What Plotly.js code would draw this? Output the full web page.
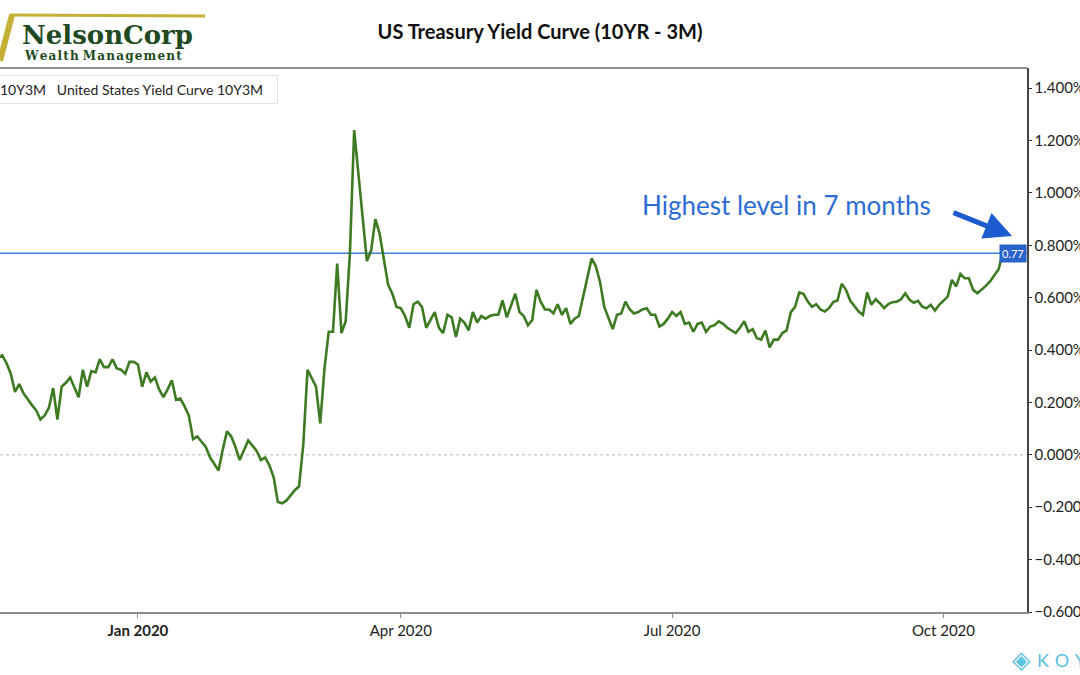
<!DOCTYPE html>
<html>
<head>
<meta charset="utf-8">
<script src="https://cdn.plot.ly/plotly-3.0.1.min.js"></script>
<style>
  html, body { margin: 0; padding: 0; background: #fff; }
  #chart { width: 1080px; height: 675px; }
</style>
</head>
<body>
<div id="chart"></div>
<script>
// US Treasury 10Y-3M spread, one value per trading day starting 2019-11-13
const startDate = '2019-11-13';
const marketHolidays = ['2019-11-28', '2019-12-25', '2020-01-01', '2020-01-20', '2020-02-17',
                        '2020-05-25', '2020-07-03', '2020-09-07', '2020-10-12'];
const spread10y3m = [
  0.37, 0.38, 0.35, 0.31, 0.24, 0.27, 0.235, 0.21, 0.19, 0.17,
  0.135, 0.15, 0.18, 0.255, 0.135, 0.26, 0.275, 0.295, 0.255, 0.22,
  0.325, 0.26, 0.32, 0.315, 0.365, 0.335, 0.335, 0.365, 0.33, 0.325,
  0.31, 0.355, 0.355, 0.345, 0.26, 0.315, 0.28, 0.295, 0.25, 0.22,
  0.25, 0.285, 0.21, 0.215, 0.185, 0.15, 0.06, 0.07, 0.05, 0.03,
  -0.01, -0.035, -0.06, 0.02, 0.09, 0.07, 0.03, -0.02, 0.02, 0.055,
  0.035, 0.015, -0.02, -0.01, -0.04, -0.085, -0.18, -0.185, -0.175, -0.155,
  -0.135, -0.12, 0.04, 0.325, 0.29, 0.26, 0.12, 0.33, 0.47, 0.47,
  0.73, 0.465, 0.51, 0.77, 1.24, 1.075, 0.91, 0.74, 0.78, 0.90,
  0.845, 0.755, 0.65, 0.615, 0.565, 0.56, 0.53, 0.485, 0.575, 0.585,
  0.565, 0.485, 0.515, 0.545, 0.485, 0.465, 0.535, 0.525, 0.45, 0.52,
  0.505, 0.475, 0.545, 0.505, 0.53, 0.52, 0.53, 0.535, 0.535, 0.59,
  0.525, 0.57, 0.615, 0.545, 0.53, 0.495, 0.515, 0.63, 0.585, 0.555,
  0.555, 0.54, 0.575, 0.535, 0.56, 0.50, 0.52, 0.53, 0.605, 0.68,
  0.75, 0.72, 0.66, 0.565, 0.52, 0.48, 0.535, 0.54, 0.585, 0.555,
  0.54, 0.545, 0.555, 0.56, 0.535, 0.535, 0.49, 0.50, 0.52, 0.545,
  0.53, 0.545, 0.50, 0.505, 0.47, 0.50, 0.505, 0.47, 0.49, 0.495,
  0.51, 0.50, 0.485, 0.475, 0.465, 0.485, 0.51, 0.47, 0.48, 0.445,
  0.44, 0.475, 0.41, 0.44, 0.44, 0.465, 0.475, 0.545, 0.565, 0.62,
  0.615, 0.585, 0.565, 0.575, 0.555, 0.547, 0.56, 0.583, 0.589, 0.653,
  0.63, 0.589, 0.566, 0.547, 0.534, 0.62, 0.573, 0.594, 0.579, 0.56,
  0.576, 0.583, 0.585, 0.594, 0.617, 0.592, 0.581, 0.588, 0.566, 0.56,
  0.573, 0.551, 0.573, 0.589, 0.604, 0.668, 0.643, 0.691, 0.674, 0.674,
  0.63, 0.617, 0.63, 0.645, 0.662, 0.687, 0.709, 0.77
];
const xTickVals = ['2020-01-02', '2020-04-01', '2020-07-01', '2020-10-01'];
const xTickText = ['<b>Jan 2020</b>', 'Apr 2020', 'Jul 2020', 'Oct 2020'];

// trading-day calendar for the values above
function tradingDays(start, n) {
  var d = new Date(start + 'T00:00:00Z');
  var out = [];
  while (out.length < n) {
    var s = d.toISOString().slice(0, 10);
    var wd = d.getUTCDay();
    if (wd !== 0 && wd !== 6 && marketHolidays.indexOf(s) < 0) out.push(s);
    d.setUTCDate(d.getUTCDate() + 1);
  }
  return out;
}
var dates = tradingDays(startDate, spread10y3m.length);
var lastValue = spread10y3m[spread10y3m.length - 1];

// plot area is 1027 x 544 px, these turn pixel spots into paper units
function px(x) { return x / 1027; }
function py(y) { return (612 - y) / 544; }

var trace = {
  x: dates,
  y: spread10y3m,
  type: 'scatter',
  mode: 'lines',
  line: { color: '#3d7a22', width: 2.6 },
  hoverinfo: 'x+y'
};

var blue = '#2d6cd6';
var serif = '"DejaVu Serif", "Liberation Serif", serif';
var hair = '\u200a';
var nb = '\u00a0';

var layout = {
  width: 1080,
  height: 675,
  margin: { l: 0, r: 53, t: 68, b: 63 },
  paper_bgcolor: '#ffffff',
  plot_bgcolor: '#ffffff',
  showlegend: false,
  font: { family: 'Lato, "Open Sans", sans-serif', color: '#222' },
  title: {
    text: 'US Treasury Yield Curve (10YR - 3M)',
    font: { family: 'Lato, sans-serif', size: 20, color: '#111', weight: 'bold' },
    xref: 'container', x: 0.5, xanchor: 'center',
    yref: 'container', y: 1 - 32 / 675, yanchor: 'middle'
  },
  xaxis: {
    type: 'date',
    range: ['2019-11-13 11:00', '2020-10-29 17:00'],
    rangebreaks: [{ bounds: ['sat', 'mon'] }, { values: marketHolidays }],
    showgrid: false,
    zeroline: false,
    showline: true,
    linecolor: '#8c8c8c',
    linewidth: 2,
    ticks: 'outside',
    ticklen: 4,
    tickcolor: '#8c8c8c',
    tickvals: xTickVals,
    ticktext: xTickText,
    tickfont: { size: 15, color: '#222' }
  },
  yaxis: {
    side: 'right',
    range: [-0.6, 1.477],
    dtick: 0.2,
    tick0: 0,
    tickformat: '.3f',
    ticksuffix: '%',
    showgrid: false,
    zeroline: false,
    showline: true,
    linecolor: '#444',
    linewidth: 1.5,
    ticks: 'outside',
    ticklen: 3,
    tickcolor: '#333',
    tickfont: { size: 15, color: '#222' }
  },
  shapes: [
    // frame top
    { type: 'line', xref: 'paper', yref: 'paper', x0: 0, x1: 1, y0: 1, y1: 1,
      line: { color: '#6e6e6e', width: 1.5 } },
    // zero line
    { type: 'line', xref: 'paper', yref: 'y', x0: 0, x1: 1, y0: 0, y1: 0, layer: 'below',
      line: { color: '#b8b8b8', width: 1, dash: 'dot' } },
    // latest value line
    { type: 'line', xref: 'paper', yref: 'y', x0: 0, x1: 1, y0: lastValue, y1: lastValue, layer: 'below',
      line: { color: '#3f7fdc', width: 1.5 } },
    // logo frame
    { type: 'line', xref: 'paper', yref: 'paper', x0: px(10), x1: px(205), y0: py(15), y1: py(16),
      line: { color: '#c4b136', width: 3 } },
    { type: 'line', xref: 'paper', yref: 'paper', x0: px(12), x1: px(0), y0: py(15), y1: py(61),
      line: { color: '#c4b136', width: 6 } }
  ],
  annotations: [
    // legend box
    { xref: 'paper', yref: 'paper', x: px(-6), y: py(90), xanchor: 'left', yanchor: 'middle',
      text: '10Y3M' + nb + nb + nb + 'United States Yield Curve 10Y3M', showarrow: false,
      font: { size: 14, color: '#222' }, align: 'left', width: 272,
      bgcolor: '#ffffff', bordercolor: '#e2e2e2', borderwidth: 1, borderpad: 5 },
    // callout text
    { xref: 'paper', yref: 'paper', x: px(786), y: py(205), xanchor: 'center', yanchor: 'middle',
      text: 'Highest level in 7 months', showarrow: false,
      font: { size: 26, color: blue } },
    // callout arrow
    { xref: 'paper', yref: 'paper', x: px(1012), y: py(236), text: '', showarrow: true,
      ax: -60, ay: -24, arrowhead: 2, arrowsize: 1.1, arrowwidth: 5, arrowcolor: '#1d5bd0' },
    // last value tag
    { xref: 'paper', yref: 'y', x: 1, y: lastValue, xanchor: 'right', yanchor: 'middle',
      text: lastValue.toFixed(2), showarrow: false,
      font: { size: 11, color: '#ffffff' }, bgcolor: '#2962c9', borderpad: 2 },
    // NelsonCorp logo
    { xref: 'paper', yref: 'paper', x: px(20), y: py(35), xanchor: 'left', yanchor: 'middle',
      text: '<b>NelsonCorp</b>', showarrow: false,
      font: { family: serif, size: 26, color: '#1f4a1f' } },
    { xref: 'paper', yref: 'paper', x: px(22), y: py(56.5), xanchor: 'left', yanchor: 'middle',
      text: '<b>' + 'Wealth'.split('').join(hair) + nb + 'Management'.split('').join(hair) + '</b>',
      showarrow: false,
      font: { family: serif, size: 12, color: '#1f4a1f' } },
    // Koyfin mark
    { xref: 'paper', yref: 'paper', x: px(1021), y: py(660), xanchor: 'center', yanchor: 'middle',
      text: '\u25c8', showarrow: false, font: { family: 'DejaVu Sans', size: 24, color: '#5bbfe0' } },
    { xref: 'paper', yref: 'paper', x: px(1035), y: py(660), xanchor: 'left', yanchor: 'middle',
      text: ['K', 'O', 'Y', 'F', 'I', 'N'].join(nb + hair), showarrow: false,
      font: { size: 18, color: '#5bbfe0' } }
  ]
};

Plotly.newPlot('chart', [trace], layout, { displayModeBar: false, staticPlot: true });
</script>
</body>
</html>
